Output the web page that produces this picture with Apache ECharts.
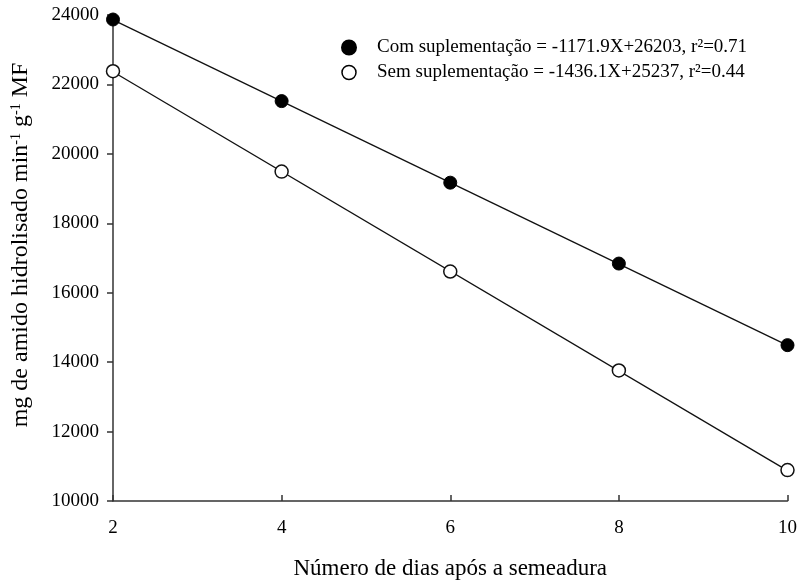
<!DOCTYPE html>
<html>
<head>
<meta charset="utf-8">
<title>Amido hidrolisado</title>
<script src="https://cdn.jsdelivr.net/npm/echarts@6/dist/echarts.min.js"></script>
<style>
  html, body { margin: 0; padding: 0; background: #fff; }
  #chart { width: 800px; height: 585px; }
</style>
</head>
<body>
<div id="chart"></div>
<script>
// dias após a semeadura
const dias = [2, 4, 6, 8, 10]
const comSup = [23870, 21520, 19170, 16840, 14490]
const semSup = [22380, 19490, 16610, 13760, 10890]
// extremos das retas ajustadas (x = 2 e x = 10)
const fitX = [2, 10]
const fitCom = [23859, 14484]
const fitSem = [22365, 10876]
// textos da legenda
const legendCom = 'Com suplementação = -1171.9X+26203, r²=0.71'
const legendSem = 'Sem suplementação = -1436.1X+25237, r²=0.44'

const font = 'Liberation Serif'
const axisColor = '#333'

const chart = echarts.init(document.getElementById('chart'))

const pares = (xs, ys) => xs.map((x, i) => [x, ys[i]])

const option = {
  animation: false,
  grid: { left: 113, right: 11, top: 15, bottom: 83 },
  legend: {
    orient: 'vertical',
    left: 341,
    top: 38,
    itemGap: 6,
    itemWidth: 14,
    itemHeight: 14,
    padding: 0,
    textStyle: { fontFamily: font, fontSize: 19, color: '#000', padding: [0, 0, 0, 16] },
    formatter: (name) => name === 'com' ? legendCom : legendSem,
    data: [
      { name: 'com', icon: 'circle', itemStyle: { color: '#000', borderColor: '#000' } },
      { name: 'sem', icon: 'circle', itemStyle: { color: '#fff', borderColor: '#000', borderWidth: 1.5 } }
    ]
  },
  xAxis: {
    type: 'value',
    min: 2,
    max: 10,
    interval: 2,
    name: 'Número de dias após a semeadura',
    nameLocation: 'middle',
    nameGap: 56,
    nameTextStyle: { fontFamily: font, fontSize: 23, color: '#000' },
    splitLine: { show: false },
    axisLine: { lineStyle: { color: axisColor, width: 1.5 } },
    axisTick: { inside: true, length: 6, lineStyle: { color: axisColor, width: 1.5 } },
    axisLabel: { fontFamily: font, fontSize: 19, color: '#000', margin: 18 }
  },
  yAxis: {
    type: 'value',
    min: 10000,
    max: 24000,
    interval: 2000,
    name: 'mg de amido hidrolisado min{sup|-1} g{sup|-1} MF',
    nameLocation: 'middle',
    nameRotate: 90,
    nameGap: 80,
    nameTextStyle: {
      fontFamily: font,
      fontSize: 24,
      color: '#000',
      padding: [0, 0, 0, 26],
      rich: {
        sup: { fontFamily: font, fontSize: 14, color: '#000', verticalAlign: 'top', lineHeight: 24 }
      }
    },
    splitLine: { show: false },
    axisLine: { lineStyle: { color: axisColor, width: 1.5 } },
    axisTick: { length: 6, lineStyle: { color: axisColor, width: 1.5 } },
    axisLabel: { fontFamily: font, fontSize: 19, color: '#000', margin: 14, formatter: (v) => String(v) }
  },
  series: [
    {
      name: 'fitCom',
      type: 'line',
      data: pares(fitX, fitCom),
      showSymbol: false,
      lineStyle: { color: '#111', width: 1.3 },
      z: 1
    },
    {
      name: 'fitSem',
      type: 'line',
      data: pares(fitX, fitSem),
      showSymbol: false,
      lineStyle: { color: '#111', width: 1.3 },
      z: 1
    },
    {
      name: 'com',
      type: 'scatter',
      data: pares(dias, comSup),
      symbol: 'circle',
      symbolSize: 13,
      itemStyle: { color: '#000', borderColor: '#000', borderWidth: 1, opacity: 1 },
      z: 3
    },
    {
      name: 'sem',
      type: 'scatter',
      data: pares(dias, semSup),
      symbol: 'circle',
      symbolSize: 13,
      itemStyle: { color: '#fff', borderColor: '#111', borderWidth: 1.5, opacity: 1 },
      z: 3
    }
  ]
}

chart.setOption(option)
</script>
</body>
</html>
